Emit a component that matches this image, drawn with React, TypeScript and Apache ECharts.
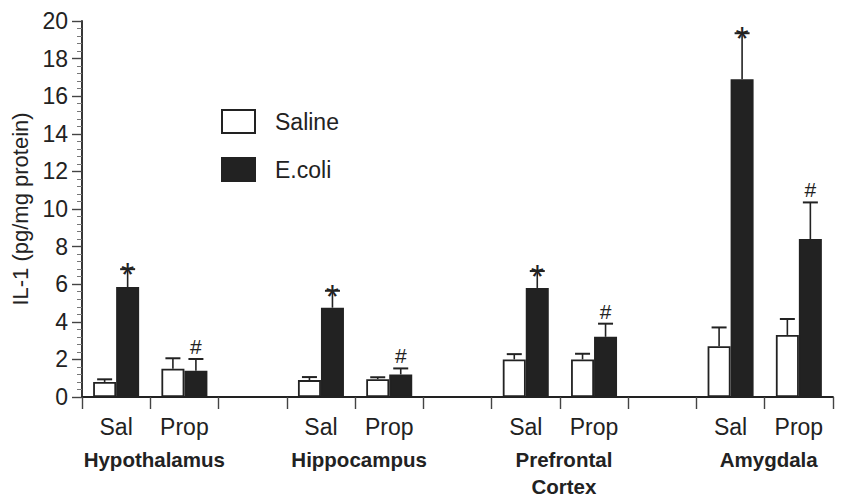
import React, { useEffect, useRef } from "react";
import * as echarts from "echarts";

const categories = ["Sal", "Prop", "", "Sal", "Prop", "", "Sal", "Prop", "", "Sal", "Prop"];
const regionNames = ["Hypothalamus", "Hippocampus", "Prefrontal\nCortex", "Amygdala"];
const regionFirstIndex = [0, 3, 6, 9];
const salineMean = [0.8, 1.5, null, 0.9, 0.95, null, 2.0, 2.0, null, 2.7, 3.3];
const salineSem = [0.14, 0.56, null, 0.16, 0.1, null, 0.28, 0.3, null, 1.0, 0.85];
const ecoliMean = [5.85, 1.4, null, 4.75, 1.2, null, 5.8, 3.2, null, 16.9, 8.4];
const ecoliSem = [0.95, 0.62, null, 0.9, 0.32, null, 0.9, 0.7, null, 2.45, 1.95];
const ecoliMarks = ["*", "#", "", "*", "#", "", "*", "#", "", "*", "#"];
const seriesNames = ["Saline", "E.coli"];

const FONT = "'Liberation Sans', Arial, Helvetica, sans-serif";
const INK = "#222";
const BAR_W = 23;

function errorSeries(means: (number | null)[], sems: (number | null)[], offset: number, marks: string[] | null) {
  const data: number[][] = [];
  const markList: string[] = [];
  means.forEach((m, i) => {
    if (m == null) return;
    data.push([i, m, sems[i] as number]);
    markList.push(marks ? marks[i] : "");
  });
  return {
    type: "custom",
    silent: true,
    clip: false,
    z: 5,
    data,
    renderItem: (params: any, api: any) => {
      const idx = api.value(0);
      const mean = api.value(1);
      const sem = api.value(2);
      const base = api.coord([idx, mean]);
      const top = api.coord([idx, mean + sem]);
      const x = base[0] + offset;
      const children: any[] = [
        { type: "line", shape: { x1: x, y1: base[1], x2: x, y2: top[1] }, style: { stroke: INK, lineWidth: 1.6 } },
        { type: "line", shape: { x1: x - 7.5, y1: top[1], x2: x + 7.5, y2: top[1] }, style: { stroke: INK, lineWidth: 2 } },
      ];
      const mk = markList[params.dataIndex];
      if (mk === "*") {
        children.push({
          type: "text",
          x, y: top[1] + 5,
          style: { text: "*", fontSize: 34, fontFamily: FONT, fill: INK, align: "center", verticalAlign: "middle" },
        });
      } else if (mk === "#") {
        children.push({
          type: "text",
          x, y: top[1] - 2,
          style: { text: "#", fontSize: 21, fontFamily: FONT, fill: INK, align: "center", verticalAlign: "bottom" },
        });
      }
      return { type: "group", children };
    },
  };
}

export default function App() {
  const ref = useRef<HTMLDivElement>(null);
  useEffect(() => {
    if (!ref.current) return;
    const chart = echarts.init(ref.current, undefined, { renderer: "svg" });
    const option: any = {
      animation: false,
      backgroundColor: "#fff",
      textStyle: { fontFamily: FONT, color: INK },
      grid: { left: 82, right: 19, top: 21, bottom: 107 },
      legend: {
        orient: "vertical",
        left: 216,
        top: 104,
        itemWidth: 33,
        itemHeight: 23,
        itemGap: 23,
        icon: "rect",
        data: seriesNames,
        textStyle: { fontSize: 23, fontFamily: FONT, color: INK, padding: [0, 0, 0, 15] },
      },
      xAxis: {
        type: "category",
        data: categories,
        axisLine: { lineStyle: { color: INK, width: 1.8 } },
        axisTick: { show: true, interval: 0, length: 12, alignWithLabel: false, lineStyle: { color: "#444", width: 1.4 } },
        axisLabel: { interval: 0, fontSize: 23, fontFamily: FONT, color: INK, margin: 18 },
        splitLine: { show: false },
      },
      yAxis: {
        type: "value",
        min: 0,
        max: 20,
        interval: 2,
        name: "IL-1 (pg/mg protein)",
        nameLocation: "middle",
        nameGap: 48,
        nameTextStyle: { fontSize: 22, fontFamily: FONT, color: INK },
        axisLine: { show: true, lineStyle: { color: INK, width: 1.8 } },
        axisTick: { show: true, length: 10, lineStyle: { color: "#444", width: 1.4 } },
        minorTick: { show: true, splitNumber: 5, length: 5, lineStyle: { color: "#777", width: 1 } },
        axisLabel: { fontSize: 23, fontFamily: FONT, color: INK, margin: 14 },
        splitLine: { show: false },
        minorSplitLine: { show: false },
      },
      series: [
        {
          name: seriesNames[0],
          type: "bar",
          barWidth: BAR_W,
          barGap: "0%",
          data: salineMean.map((v) => (v == null ? "-" : v)),
          itemStyle: { color: "#fff", borderColor: INK, borderWidth: 1.8 },
        },
        {
          name: seriesNames[1],
          type: "bar",
          barWidth: BAR_W,
          barGap: "0%",
          data: ecoliMean.map((v) => (v == null ? "-" : v)),
          itemStyle: { color: INK, borderColor: INK, borderWidth: 1.8 },
        },
        errorSeries(salineMean, salineSem, -BAR_W / 2, null),
        errorSeries(ecoliMean, ecoliSem, BAR_W / 2, ecoliMarks),
      ],
    };
    chart.setOption(option);
    const graphics = regionNames.map((name, k) => {
      const i = regionFirstIndex[k];
      const a = chart.convertToPixel({ xAxisIndex: 0 }, i) as number;
      const b = chart.convertToPixel({ xAxisIndex: 0 }, i + 1) as number;
      return {
        type: "text",
        x: (a + b) / 2 + 4,
        y: 446,
        style: {
          text: name,
          fontSize: 20.5,
          fontWeight: "bold",
          fontFamily: FONT,
          fill: INK,
          align: "center",
          verticalAlign: "top",
          lineHeight: 27,
        },
      };
    });
    chart.setOption({ graphic: graphics });
    return () => chart.dispose();
  }, []);
  return <div ref={ref} style={{ position: "fixed", left: 0, top: 0, width: 852, height: 504, background: "#fff" }} />;
}
